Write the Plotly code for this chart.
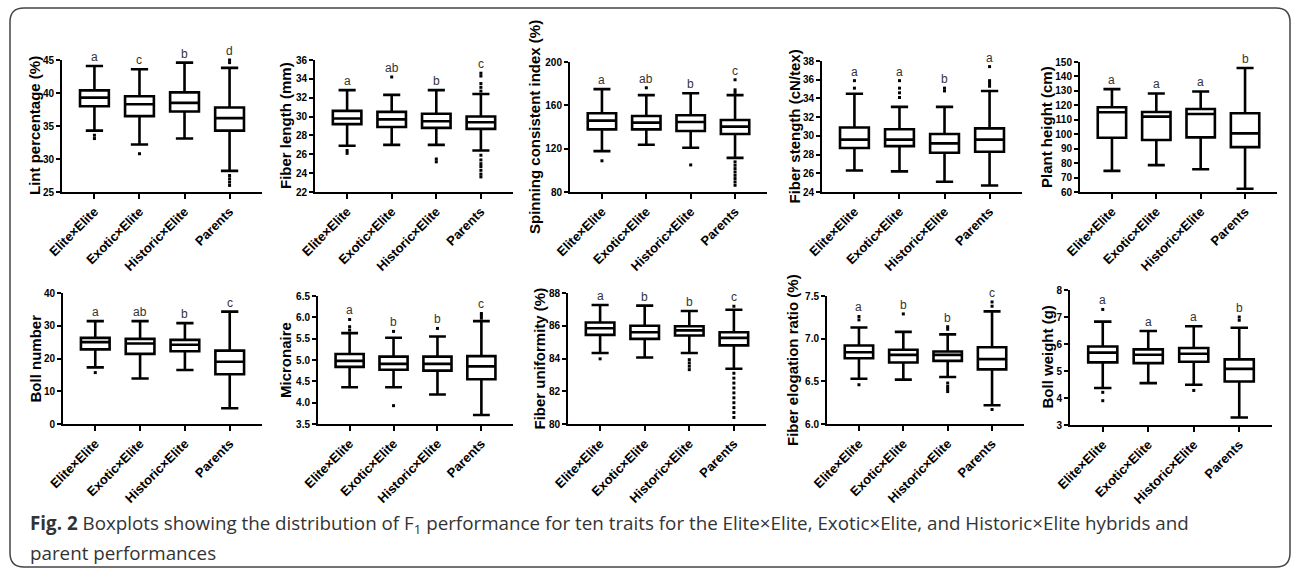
import plotly.graph_objects as go

W, H = 1292, 569

categories = ["Elite×Elite", "Exotic×Elite", "Historic×Elite", "Parents"]

# ---- Lint percentage (%) ----
lint_lower = [34.3, 32.2, 33.1, 28.2]
lint_q1 = [38.0, 36.5, 37.2, 34.3]
lint_median = [39.3, 38.3, 38.5, 36.2]
lint_q3 = [40.4, 39.5, 40.1, 37.8]
lint_upper = [44.1, 43.6, 44.6, 43.8]
lint_outliers = [[33.6, 33.1], [30.8], [], [45.0, 44.6, 27.5, 27.0, 26.5, 26.0]]
lint_letters = ["a", "c", "b", "d"]

# ---- Fiber length (mm) ----
flen_lower = [26.9, 27.0, 27.0, 26.4]
flen_q1 = [29.2, 28.9, 28.8, 28.7]
flen_median = [29.8, 29.7, 29.5, 29.4]
flen_q3 = [30.6, 30.5, 30.3, 30.0]
flen_upper = [32.8, 32.3, 32.8, 32.4]
flen_outliers = [[26.4, 26.1], [34.2], [25.5, 25.2],
                 [34.6, 34.3, 33.5, 33.1, 32.7, 25.9, 25.4, 25.0, 24.7, 24.3, 23.9, 23.6]]
flen_letters = ["a", "ab", "b", "c"]

# ---- Spinning consistent index (%) ----
sci_lower = [117.7, 123.6, 120.8, 111.5]
sci_q1 = [137.8, 137.8, 136.3, 133.5]
sci_median = [145.9, 144.0, 144.6, 140.3]
sci_q3 = [152.7, 150.2, 150.8, 146.5]
sci_upper = [175.0, 169.4, 171.2, 169.4]
sci_outliers = [[108.8], [176.2], [105.0],
                [183.6, 174.3, 171.9, 107.8, 104.7, 101.6, 98.5, 95.4, 92.4, 89.3, 86.2]]
sci_letters = ["a", "ab", "b", "c"]

# ---- Fiber stength (cN/tex) ----
fstr_lower = [26.3, 26.2, 25.1, 24.7]
fstr_q1 = [28.7, 28.9, 28.2, 28.3]
fstr_median = [29.6, 29.6, 29.2, 29.6]
fstr_q3 = [30.9, 30.7, 30.2, 30.8]
fstr_upper = [34.5, 33.1, 33.1, 34.8]
fstr_outliers = [[35.9, 35.1], [35.9, 35.1, 34.6, 34.1], [35.1, 34.8], [37.4, 35.9, 35.6, 35.3]]
fstr_letters = ["a", "a", "b", "a"]

# ---- Plant height (cm) ----
ph_lower = [74.6, 78.6, 75.8, 62.3]
ph_q1 = [97.6, 96.0, 97.8, 91.1]
ph_median = [115.2, 112.2, 114.0, 100.6]
ph_q3 = [118.7, 115.4, 117.5, 114.5]
ph_upper = [131.2, 128.2, 129.6, 145.8]
ph_outliers = [[], [], [], []]
ph_letters = ["a", "a", "a", "b"]

# ---- Boll number ----
bn_lower = [17.3, 13.9, 16.5, 4.8]
bn_q1 = [22.8, 21.4, 22.2, 15.2]
bn_median = [25.0, 24.6, 24.2, 19.0]
bn_q3 = [26.3, 26.0, 25.7, 22.4]
bn_upper = [31.4, 31.4, 30.8, 34.3]
bn_outliers = [[15.7], [], [], []]
bn_letters = ["a", "ab", "b", "c"]

# ---- Micronaire ----
mic_lower = [4.36, 4.36, 4.19, 3.71]
mic_q1 = [4.84, 4.77, 4.75, 4.55]
mic_median = [4.98, 4.91, 4.91, 4.85]
mic_q3 = [5.14, 5.08, 5.08, 5.09]
mic_upper = [5.63, 5.52, 5.55, 5.91]
mic_outliers = [[5.95, 5.78, 5.70], [5.67, 3.93], [5.74], [6.09, 6.04, 5.98]]
mic_letters = ["a", "b", "b", "c"]

# ---- Fiber uniformity (%) ----
fu_lower = [84.34, 84.06, 84.34, 83.37]
fu_q1 = [85.44, 85.2, 85.4, 84.8]
fu_median = [85.85, 85.6, 85.72, 85.26]
fu_q3 = [86.2, 86.0, 85.97, 85.6]
fu_upper = [87.27, 87.23, 86.9, 86.98]
fu_outliers = [[83.98], [], [83.93, 83.73, 83.53, 83.32],
               [87.19, 83.1, 82.8, 82.5, 82.2, 81.9, 81.6, 81.3, 81.0, 80.7, 80.4]]
fu_letters = ["a", "b", "b", "c"]

# ---- Fiber elogation ratio (%) ----
fe_lower = [6.53, 6.52, 6.55, 6.22]
fe_q1 = [6.77, 6.72, 6.74, 6.64]
fe_median = [6.84, 6.81, 6.81, 6.76]
fe_q3 = [6.92, 6.87, 6.85, 6.90]
fe_upper = [7.13, 7.08, 7.05, 7.32]
fe_outliers = [[7.26, 7.22, 6.46], [7.29], [7.14, 7.11, 6.48, 6.44, 6.41, 6.38], [7.43, 7.38, 6.17]]
fe_letters = ["a", "b", "b", "c"]

# ---- Boll weight (g) ----
bw_lower = [4.37, 4.55, 4.49, 3.28]
bw_q1 = [5.32, 5.29, 5.34, 4.61]
bw_median = [5.68, 5.60, 5.64, 5.08]
bw_q3 = [5.91, 5.80, 5.85, 5.43]
bw_upper = [6.83, 6.48, 6.66, 6.60]
bw_outliers = [[7.28, 4.21, 3.9], [], [4.28], [7.0, 6.88]]
bw_letters = ["a", "a", "a", "b"]

axis_titles = ["Lint percentage (%)", "Fiber length (mm)", "Spinning consistent index (%)",
               "Fiber stength (cN/tex)", "Plant height (cm)",
               "Boll number", "Micronaire", "Fiber uniformity (%)",
               "Fiber elogation ratio (%)", "Boll weight (g)"]
y_ranges = [[25, 45], [22, 36], [80, 200], [24, 38], [60, 150],
            [0, 40], [3.5, 6.5], [80, 88], [6.0, 7.5], [3, 8]]
y_dticks = [5, 2, 40, 2, 10, 10, 0.5, 2, 0.5, 1]

panels = [
    (lint_lower, lint_q1, lint_median, lint_q3, lint_upper, lint_outliers, lint_letters),
    (flen_lower, flen_q1, flen_median, flen_q3, flen_upper, flen_outliers, flen_letters),
    (sci_lower, sci_q1, sci_median, sci_q3, sci_upper, sci_outliers, sci_letters),
    (fstr_lower, fstr_q1, fstr_median, fstr_q3, fstr_upper, fstr_outliers, fstr_letters),
    (ph_lower, ph_q1, ph_median, ph_q3, ph_upper, ph_outliers, ph_letters),
    (bn_lower, bn_q1, bn_median, bn_q3, bn_upper, bn_outliers, bn_letters),
    (mic_lower, mic_q1, mic_median, mic_q3, mic_upper, mic_outliers, mic_letters),
    (fu_lower, fu_q1, fu_median, fu_q3, fu_upper, fu_outliers, fu_letters),
    (fe_lower, fe_q1, fe_median, fe_q3, fe_upper, fe_outliers, fe_letters),
    (bw_lower, bw_q1, bw_median, bw_q3, bw_upper, bw_outliers, bw_letters),
]

# layout (pixel geometry of each plot area): left, right, top, bottom
geom = [
    (62, 262, 60, 192), (315, 513, 60, 192), (570, 767, 62, 192), (822, 1022, 61, 192), (1080, 1277, 62, 192),
    (63, 262, 293, 424), (318, 513, 296, 424), (568, 766, 293, 424), (827, 1024, 296, 424), (1070, 1272, 290, 425),
]
title_x = [35, 286, 534, 794, 1046, 35, 285, 539, 792, 1047]

AX_FONT = "Liberation Sans, Arial, sans-serif"

fig = go.Figure()
annotations = []
layout = {}
for i, (lo, q1, med, q3, up, outl, letters) in enumerate(panels):
    sfx = "" if i == 0 else str(i + 1)
    xa, ya = "x" + sfx, "y" + sfx
    fig.add_trace(go.Box(
        x=categories, lowerfence=lo, q1=q1, median=med, q3=q3, upperfence=up,
        xaxis=xa, yaxis=ya, width=0.64, whiskerwidth=0.6,
        line=dict(color="black", width=2.6), fillcolor="white",
        boxpoints=False, showlegend=False, hoverinfo="skip"))
    ox, oy = [], []
    for c, vals in zip(categories, outl):
        for v in vals:
            ox.append(c)
            oy.append(v)
    fig.add_trace(go.Scatter(
        x=ox, y=oy, mode="markers", xaxis=xa, yaxis=ya,
        marker=dict(color="black", size=3, symbol="square"),
        showlegend=False, hoverinfo="skip", cliponaxis=False))
    # significance letters above highest point
    for c, vals, u, let in zip(categories, outl, up, letters):
        top = max([u] + vals)
        annotations.append(dict(x=c, y=top, xref=xa, yref=ya, text=let, showarrow=False,
                                yanchor="middle", yshift=9,
                                font=dict(family=AX_FONT, size=12, color="#333")))
    l, r, t, b = geom[i]
    layout["xaxis" + sfx] = dict(
        domain=[l / W, r / W], anchor=ya, type="category", categoryorder="array",
        categoryarray=categories, range=[-0.72, 3.72], automargin=False,
        showline=True, linecolor="black", linewidth=2, ticks="outside", ticklen=5,
        tickwidth=2, tickcolor="black", tickangle=-45, showgrid=False, zeroline=False,
        tickfont=dict(family=AX_FONT, size=13, color="black", weight="bold"))
    layout["yaxis" + sfx] = dict(
        domain=[1 - b / H, 1 - t / H], anchor=xa, range=y_ranges[i], automargin=False,
        tick0=y_ranges[i][0], dtick=y_dticks[i],
        tickformat=".1f" if y_dticks[i] < 1 else "d",
        showline=True, linecolor="black", linewidth=2, ticks="outside", ticklen=4,
        tickwidth=2, tickcolor="black", showgrid=False, zeroline=False,
        tickfont=dict(family=AX_FONT, size=10, color="black", weight="bold"))
    annotations.append(dict(x=title_x[i] / W, y=1 - (t + b) / 2 / H, xref="paper", yref="paper",
                            text=axis_titles[i], textangle=-90, showarrow=False,
                            xanchor="center", yanchor="middle",
                            font=dict(family=AX_FONT, size=15, color="black", weight="bold")))

CAP_FONT = "Open Sans, Noto Sans, sans-serif"
annotations.append(dict(
    x=28 / W, y=1 - 524 / H, xref="paper", yref="paper", xanchor="left", yanchor="middle",
    showarrow=False, align="left",
    text="<b>Fig. 2</b> Boxplots showing the distribution of F<sub>1</sub> performance for ten traits "
         "for the Elite×Elite, Exotic×Elite, and Historic×Elite hybrids and",
    font=dict(family=CAP_FONT, size=18.8, color="#333")))
annotations.append(dict(
    x=28 / W, y=1 - 553 / H, xref="paper", yref="paper", xanchor="left", yanchor="middle",
    showarrow=False, align="left", text="parent performances",
    font=dict(family=CAP_FONT, size=18.8, color="#333")))

# rounded frame
def P(x, y):
    return f"{x / W:.5f},{1 - y / H:.5f}"
x0, y0, x1, y1, rr = 10, 8, 1290, 567, 14
path = (f"M {P(x0 + rr, y0)} L {P(x1 - rr, y0)} Q {P(x1, y0)} {P(x1, y0 + rr)} "
        f"L {P(x1, y1 - rr)} Q {P(x1, y1)} {P(x1 - rr, y1)} L {P(x0 + rr, y1)} "
        f"Q {P(x0, y1)} {P(x0, y1 - rr)} L {P(x0, y0 + rr)} Q {P(x0, y0)} {P(x0 + rr, y0)} Z")

fig.update_layout(
    width=W, height=H, margin=dict(l=0, r=0, t=0, b=0, autoexpand=False),
    paper_bgcolor="white", plot_bgcolor="white", showlegend=False,
    annotations=annotations,
    shapes=[dict(type="path", path=path, xref="paper", yref="paper",
                 line=dict(color="#444", width=1.5))],
    **layout)

fig.write_html("out.html", config={"displayModeBar": False},
               post_script="document.body.style.margin='0';document.body.style.overflow='hidden';")
